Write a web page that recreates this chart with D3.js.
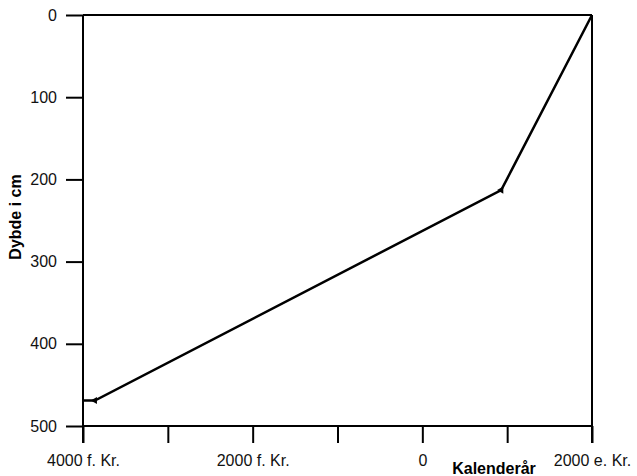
<!DOCTYPE html>
<html lang="da">
<head>
    <meta charset="UTF-8">
    <title>Dybde / kalenderår</title>
    <script src="https://cdnjs.cloudflare.com/ajax/libs/d3/7.8.0/d3.min.js"></script>
    <style>
        body { margin: 0; background: #fff; }
        svg { display: block; font-family: "Liberation Sans", Arial, sans-serif; }
    </style>
</head>
<body>
    <svg id="viz" width="637" height="476"></svg>

    <script>
        // data
        const years = [2000, 930, -3860, -4000];
        const depths = [0, 213, 469, 469];
        const markYears = [930, -3860];
        const markDepths = [213, 469];

        const xTicks = [-4000, -3000, -2000, -1000, 0, 1000, 2000];
        const xLabels = {"-4000": "4000 f. Kr.", "-2000": "2000 f. Kr.", "0": "0", "2000": "2000 e. Kr."};
        const yTicks = [0, 100, 200, 300, 400, 500];

        const svg = d3.select('#viz');
        const x = d3.scaleLinear().domain([-4000, 2000]).range([83, 592]);
        const y = d3.scaleLinear().domain([0, 500]).range([15, 426]);

        // frame lines
        const frame = svg.append('g').attr('stroke', '#000').attr('stroke-width', 2);
        frame.append('line').attr('x1', x(-4000)).attr('x2', x(-4000)).attr('y1', y(0)).attr('y2', y(500) + 17);
        frame.append('line').attr('x1', x(2000)).attr('x2', x(2000)).attr('y1', y(0)).attr('y2', y(500) + 17);
        frame.append('line').attr('x1', x(-4000)).attr('x2', x(2000)).attr('y1', y(0)).attr('y2', y(0));
        frame.append('line').attr('x1', x(-4000)).attr('x2', x(2000)).attr('y1', y(500)).attr('y2', y(500));

        // y axis
        const yAxis = svg.append('g')
            .attr('transform', 'translate(' + x(-4000) + ',0)')
            .call(d3.axisLeft(y).tickValues(yTicks).tickSize(17).tickSizeOuter(0).tickPadding(9));
        yAxis.select('.domain').remove();
        yAxis.selectAll('line').attr('stroke-width', 2);
        yAxis.selectAll('text').attr('font-size', 16).attr('fill', '#111')
            .attr('font-family', '"Liberation Sans", Arial, sans-serif');

        // x axis
        const xAxis = svg.append('g')
            .attr('transform', 'translate(0,' + y(500) + ')')
            .call(d3.axisBottom(x).tickValues(xTicks).tickSize(17).tickSizeOuter(0).tickPadding(12)
                .tickFormat(d => xLabels[d] || ''));
        xAxis.select('.domain').remove();
        xAxis.selectAll('line').attr('stroke-width', 2);
        xAxis.selectAll('text').attr('font-size', 16).attr('fill', '#111')
            .attr('font-family', '"Liberation Sans", Arial, sans-serif');

        // axis titles
        svg.append('text')
            .attr('transform', 'translate(21,217) rotate(-90)')
            .attr('text-anchor', 'middle')
            .attr('font-size', 16).attr('font-weight', 'bold')
            .text('Dybde i cm');
        svg.append('text')
            .attr('x', 494).attr('y', 474)
            .attr('text-anchor', 'middle')
            .attr('font-size', 16).attr('font-weight', 'bold')
            .text('Kalenderår');

        // depth curve
        const pts = years.map((d, i) => [d, depths[i]]);
        svg.append('path')
            .datum(pts)
            .attr('fill', 'none')
            .attr('stroke', '#000')
            .attr('stroke-width', 2.5)
            .attr('d', d3.line().x(d => x(d[0])).y(d => y(d[1])));

        // dated points
        svg.selectAll('.mark')
            .data(markYears)
            .join('path')
            .attr('class', 'mark')
            .attr('d', d3.symbol(d3.symbolTriangle, 22))
            .attr('transform', (d, i) => 'translate(' + x(d) + ',' + y(markDepths[i]) + ') rotate(-90)')
            .attr('fill', '#000');
    </script>
</body>
</html>
